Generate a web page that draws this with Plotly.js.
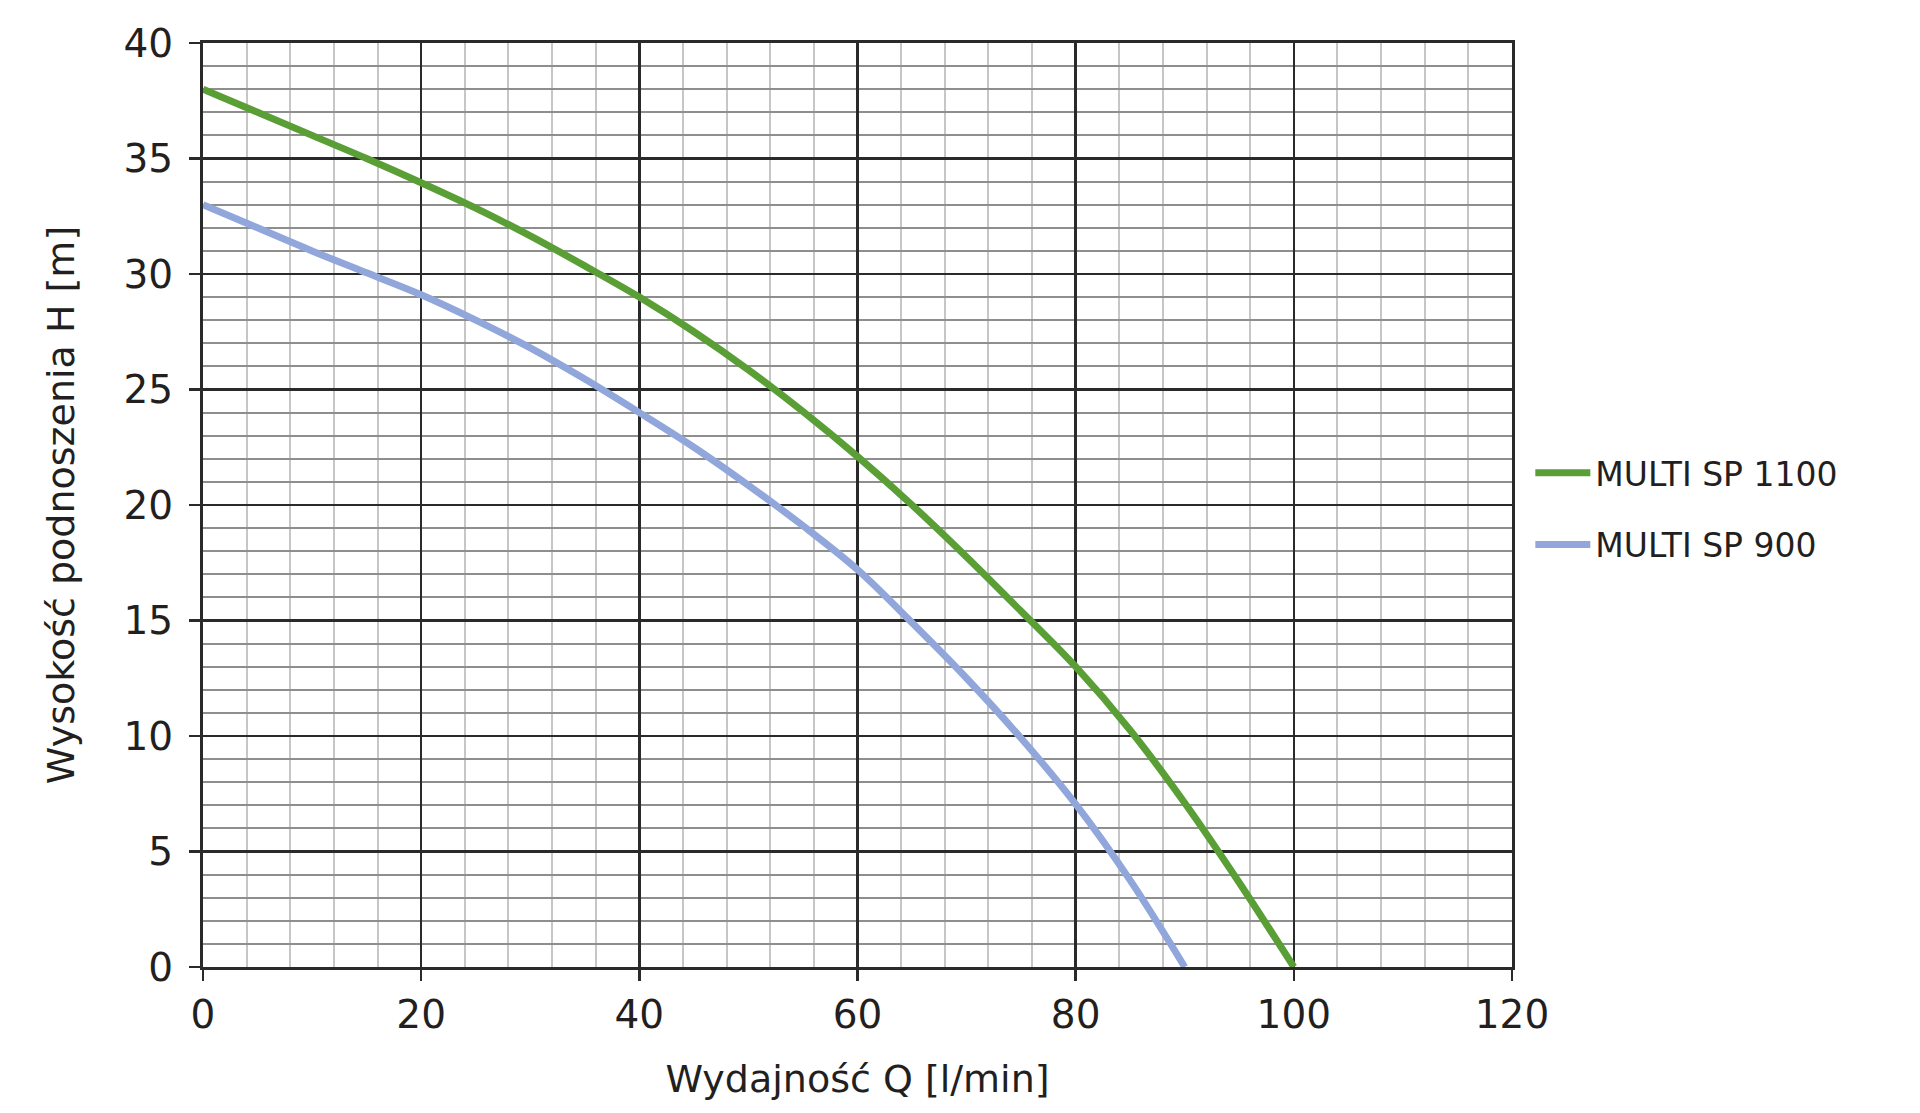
<!DOCTYPE html>
<html>
<head>
<meta charset="utf-8">
<script src="https://cdn.plot.ly/plotly-3.0.1.min.js"></script>
<style>
html, body { margin: 0; padding: 0; background: #ffffff; }
#chart { width: 1920px; height: 1113px; }
</style>
</head>
<body>
<div id="chart"></div>
<script>
// Flow rate Q [l/min] sample positions
const qValues = [0, 5, 10, 15, 20, 25, 30, 35, 40, 45, 50, 55, 60, 65, 70, 75, 80, 85, 90, 95, 100];

// Series: MULTI SP 1100 (head H [m] at each Q)
const hSP1100 = [38.0, 37.0, 36.0, 35.0, 33.95, 32.85, 31.65, 30.35, 29.0, 27.5, 25.85, 24.05, 22.1, 20.0, 17.75, 15.4, 13.0, 10.25, 7.1, 3.65, 0];

// Series: MULTI SP 900 (head H [m] at each Q, ends at 90 l/min)
const qSP900 = [0, 5, 10, 15, 20, 25, 30, 35, 40, 45, 50, 55, 60, 65, 70, 75, 80, 85, 90];
const hSP900 = [33.0, 32.0, 31.0, 30.05, 29.1, 28.0, 26.8, 25.45, 24.0, 22.5, 20.85, 19.1, 17.2, 14.9, 12.5, 9.9, 7.05, 3.75, 0];

const seriesNames = ["MULTI SP 1100", "MULTI SP 900"];
const seriesColors = ["#5a9e36", "#91a6da"];

const xTitle = "Wydajność Q [l/min]";
const yTitle = "Wysokość podnoszenia H [m]";

const FONT = "DejaVu Sans, sans-serif";
const TEXT = "#231f20";

const traces = [
  {
    x: qValues, y: hSP1100, name: seriesNames[0], type: "scatter", mode: "lines",
    line: { color: seriesColors[0], width: 7, shape: "spline", smoothing: 1 },
    legendgroup: "g1"
  },
  {
    x: qSP900, y: hSP900, name: seriesNames[1], type: "scatter", mode: "lines",
    line: { color: seriesColors[1], width: 7, shape: "spline", smoothing: 1 },
    legendgroup: "g2"
  }
];

const layout = {
  width: 1920, height: 1113,
  paper_bgcolor: "#ffffff", plot_bgcolor: "#ffffff",
  margin: { l: 203, r: 408, t: 43, b: 146, pad: 0 },
  font: { family: FONT, color: TEXT },
  showlegend: true,
  legend: {
    x: 1.014, xanchor: "left", y: 0.496, yanchor: "middle",
    font: { family: FONT, size: 33, color: TEXT },
    traceorder: "grouped", tracegroupgap: 26,
    itemwidth: 55, bgcolor: "rgba(0,0,0,0)"
  },
  xaxis: {
    range: [0, 120], dtick: 20, tick0: 0,
    showgrid: true, gridcolor: "#2a2a2a", gridwidth: 2.5,
    minor: { dtick: 4, showgrid: true, gridcolor: "#c6c6c6", gridwidth: 2 },
    showline: true, linecolor: "#2a2a2a", linewidth: 3, mirror: true,
    ticks: "outside", ticklen: 11, tickwidth: 2.5, tickcolor: "#2a2a2a",
    ticklabelstandoff: 0,
    tickfont: { family: FONT, size: 39, color: TEXT },
    zeroline: false, fixedrange: true, automargin: false,
    title: { text: xTitle, font: { family: FONT, size: 38, color: TEXT }, standoff: 30 }
  },
  yaxis: {
    range: [0, 40], dtick: 5, tick0: 0,
    showgrid: true, gridcolor: "#2a2a2a", gridwidth: 2.5,
    minor: { dtick: 1, showgrid: true, gridcolor: "#8e8e8e", gridwidth: 2 },
    showline: true, linecolor: "#2a2a2a", linewidth: 3, mirror: true,
    ticks: "outside", ticklen: 11, tickwidth: 2.5, tickcolor: "#2a2a2a",
    ticklabelstandoff: 8,
    tickfont: { family: FONT, size: 39, color: TEXT },
    zeroline: false, fixedrange: true, automargin: false,
    title: { text: yTitle, font: { family: FONT, size: 38, color: TEXT }, standoff: 38 }
  }
};

Plotly.newPlot("chart", traces, layout, { displayModeBar: false, staticPlot: true });
</script>
</body>
</html>
